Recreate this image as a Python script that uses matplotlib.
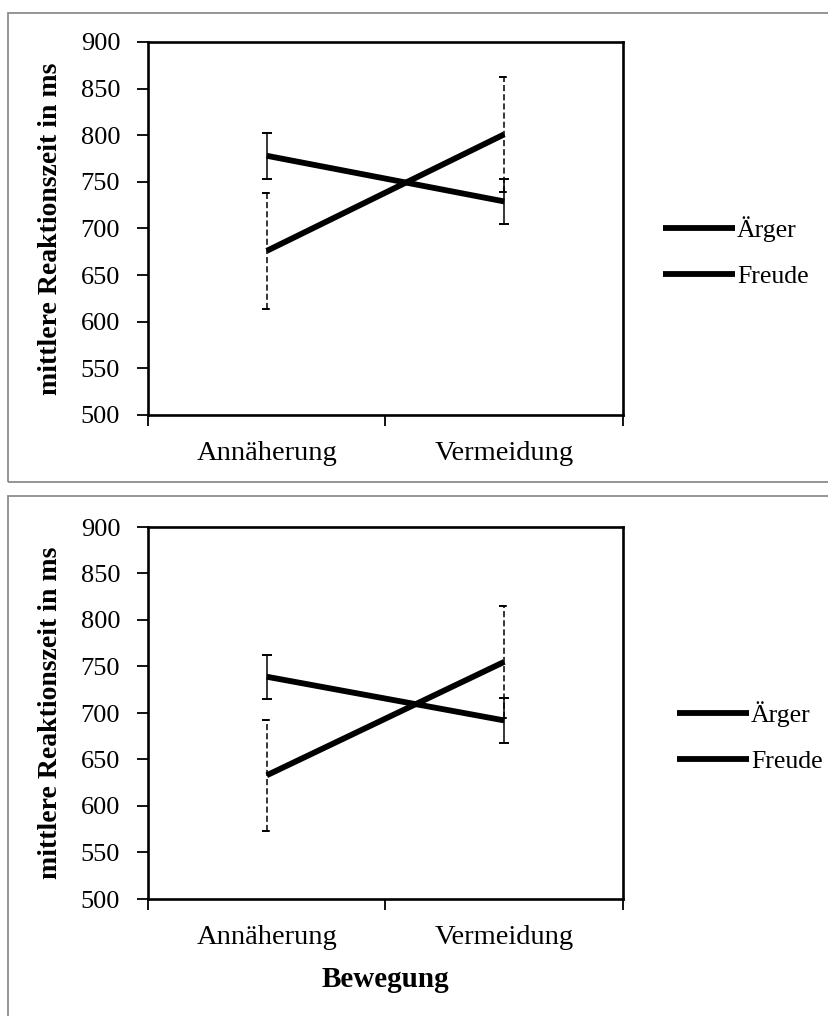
import matplotlib.pyplot as plt
from matplotlib.patches import Rectangle

plt.rcParams['font.family'] = ['Liberation Serif', 'DejaVu Serif']

# Bewegung categories
kategorien = ['Annäherung', 'Vermeidung']
gruppen = ['Ärger', 'Freude']

# top panel: mean reaction times and error (ms)
oben_aerger = [778, 729]
oben_aerger_fehler = [24.5, 24.5]
oben_freude = [676, 801]
oben_freude_fehler = [62, 62]

# bottom panel
unten_aerger = [739, 692]
unten_aerger_fehler = [23.5, 24]
unten_freude = [633, 755]
unten_freude_fehler = [60, 60]

y_ticks = [500, 550, 600, 650, 700, 750, 800, 850, 900]

fig = plt.figure(figsize=(8.29, 10.16), dpi=100)

# grey chart frames
fig.add_artist(Rectangle((8 / 829, 1 - 482 / 1016), 1.0, 469 / 1016,
                         transform=fig.transFigure, fill=False,
                         edgecolor='#8c8c8c', lw=1.3))
fig.add_artist(Rectangle((8 / 829, -0.1), 1.0, 0.1 + 1 - 496 / 1016,
                         transform=fig.transFigure, fill=False,
                         edgecolor='#8c8c8c', lw=1.3))


def fehlerbalken(ax, x, werte, fehler, stil):
    lo = [w - f for w, f in zip(werte, fehler)]
    hi = [w + f for w, f in zip(werte, fehler)]
    ax.vlines(x, lo, hi, colors='black', linewidth=1.1, linestyles=stil)
    cap = 0.022
    for xi, a, b in zip(x, lo, hi):
        ax.hlines([a, b], xi - cap, xi + cap, colors='black',
                  linewidth=1.4, linestyles=stil)


def panel(ax, aerger, aerger_f, freude, freude_f, leg_x, xlabel):
    x = [0.5, 1.5]
    fehlerbalken(ax, x, aerger, aerger_f, 'solid')
    fehlerbalken(ax, x, freude, freude_f, (0, (4, 2)))
    ax.plot(x, aerger, color='black', lw=4.2, solid_capstyle='butt', label=gruppen[0])
    ax.plot(x, freude, color='black', lw=4.2, solid_capstyle='butt', label=gruppen[1])

    ax.set_xlim(0, 2)
    ax.set_ylim(500, 900)
    ax.set_yticks(y_ticks)
    ax.set_xticks(x)
    ax.set_xticklabels(kategorien, fontsize=20.5)
    ax.set_xticks([0, 1, 2], minor=True)
    ax.tick_params(axis='x', which='major', length=0, pad=19)
    ax.tick_params(axis='x', which='minor', length=8, width=1.3, direction='out')
    ax.tick_params(axis='y', length=8, width=1.3, direction='out', pad=12, labelsize=19)
    for s in ax.spines.values():
        s.set_linewidth(1.9)

    ax.set_ylabel('mittlere Reaktionszeit in ms', fontsize=20, fontweight='bold')
    ax.yaxis.set_label_coords(-0.18, 0.5)
    if xlabel:
        ax.set_xlabel(xlabel, fontsize=21, fontweight='bold')
        ax.xaxis.set_label_coords(0.5, -0.18)

    ax.legend(loc='center left', bbox_to_anchor=(leg_x, 0.436), frameon=False,
              fontsize=18.5, handlelength=2.8, handletextpad=0.08,
              labelspacing=0.9, borderpad=0, borderaxespad=0)


ax1 = fig.add_axes([148 / 829, 1 - 415 / 1016, 475 / 829, 373 / 1016])
panel(ax1, oben_aerger, oben_aerger_fehler, oben_freude, oben_freude_fehler, 1.084, None)

ax2 = fig.add_axes([148 / 829, 1 - 899 / 1016, 475 / 829, 372 / 1016])
panel(ax2, unten_aerger, unten_aerger_fehler, unten_freude, unten_freude_fehler, 1.114, 'Bewegung')

fig.savefig('out.png', dpi=100)
